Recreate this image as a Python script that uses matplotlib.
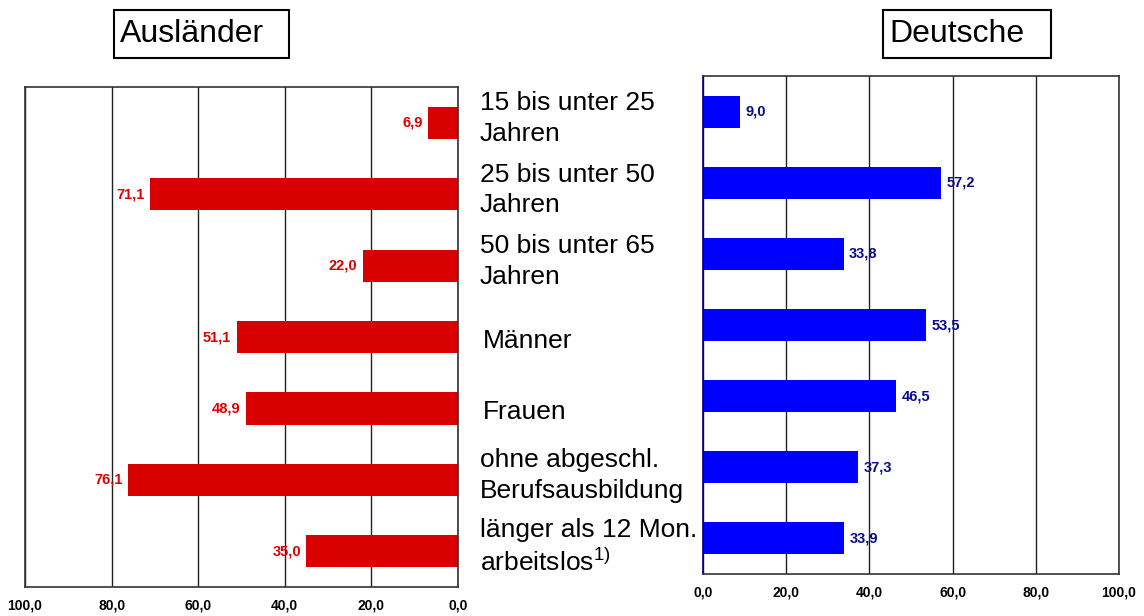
import matplotlib.pyplot as plt
import matplotlib.transforms as mtransforms
from matplotlib.patches import Rectangle

plt.rcParams['font.family'] = ['Liberation Sans', 'DejaVu Sans']
plt.rcParams['mathtext.fontset'] = 'custom'
plt.rcParams['mathtext.rm'] = 'Liberation Sans'
plt.rcParams['mathtext.it'] = 'Liberation Sans'

# data
categories = ["15 bis unter 25\nJahren", "25 bis unter 50\nJahren", "50 bis unter 65\nJahren",
              "Männer", "Frauen", "ohne abgeschl.\nBerufsausbildung",
              "länger als 12 Mon.\narbeitslos$^{1)}$"]
auslaender = [6.9, 71.1, 22.0, 51.1, 48.9, 76.1, 35.0]
deutsche = [9.0, 57.2, 33.8, 53.5, 46.5, 37.3, 33.9]
ticks = [0, 20, 40, 60, 80, 100]
tick_labels = ["0,0", "20,0", "40,0", "60,0", "80,0", "100,0"]

W, H = 1144, 616
fig = plt.figure(figsize=(W / 100, H / 100), dpi=100)

axL = fig.add_axes([25 / W, (H - 587) / H, 433 / W, 500 / H])
axR = fig.add_axes([703 / W, (H - 574) / H, 416 / W, 498 / H])

pos = list(range(len(categories)))

def style(ax, pad):
    ax.set_xlim(0, 100)
    ax.set_ylim(len(categories) - 0.5, -0.5)
    ax.set_xticks(ticks)
    ax.set_xticklabels(tick_labels, fontsize=10, fontweight='bold')
    ax.set_yticks([])
    ax.tick_params(axis='x', length=0, pad=pad)
    for t in ticks:
        ax.axvline(t, color='#222222', lw=1, zorder=0)
    for s in ax.spines.values():
        s.set_color('#333333')
        s.set_linewidth(1.2)

# left: Ausländer (reversed)
style(axL, 8)
axL.set_xlim(100, 0)
axL.barh(pos, auslaender, height=0.45, color='#d90000', zorder=2)
for y, v in zip(pos, auslaender):
    axL.annotate(f"{v:.1f}".replace('.', ','), (v, y), xytext=(-4, 0), textcoords='offset points',
                 ha='right', va='center', fontsize=10.5, fontweight='bold', color='#dd0000')

# right: Deutsche
style(axR, 8)
axR.spines['left'].set_color('#000080')
axR.barh(pos, deutsche, height=0.45, color='#0000ff', zorder=2)
for y, v in zip(pos, deutsche):
    axR.annotate(f"{v:.1f}".replace('.', ','), (v, y), xytext=(4, 0), textcoords='offset points',
                 ha='left', va='center', fontsize=10.5, fontweight='bold', color='#0a0a8a')

# category labels in the middle
trans = mtransforms.blended_transform_factory(fig.transFigure, axL.transData)
for y, lab in zip(pos, categories):
    if '\n' in lab:
        fig.text(480 / W, y - 0.06, lab, transform=trans, ha='left', va='center',
                 fontsize=19, linespacing=1.35)
    else:
        fig.text(483 / W, y + 0.05, lab, transform=trans, ha='left', va='center', fontsize=19)

# title boxes
for x0, x1, txt in [(114, 289, "Ausländer"), (883, 1051, "Deutsche")]:
    fig.patches.append(Rectangle((x0 / W, (H - 58) / H), (x1 - x0) / W, 48 / H,
                                 transform=fig.transFigure, fill=False, edgecolor='black', lw=1.5))
    fig.text((x0 + 6) / W, (H - 34) / H, txt, ha='left', va='center', fontsize=23)

fig.savefig('out.png', dpi=100)
